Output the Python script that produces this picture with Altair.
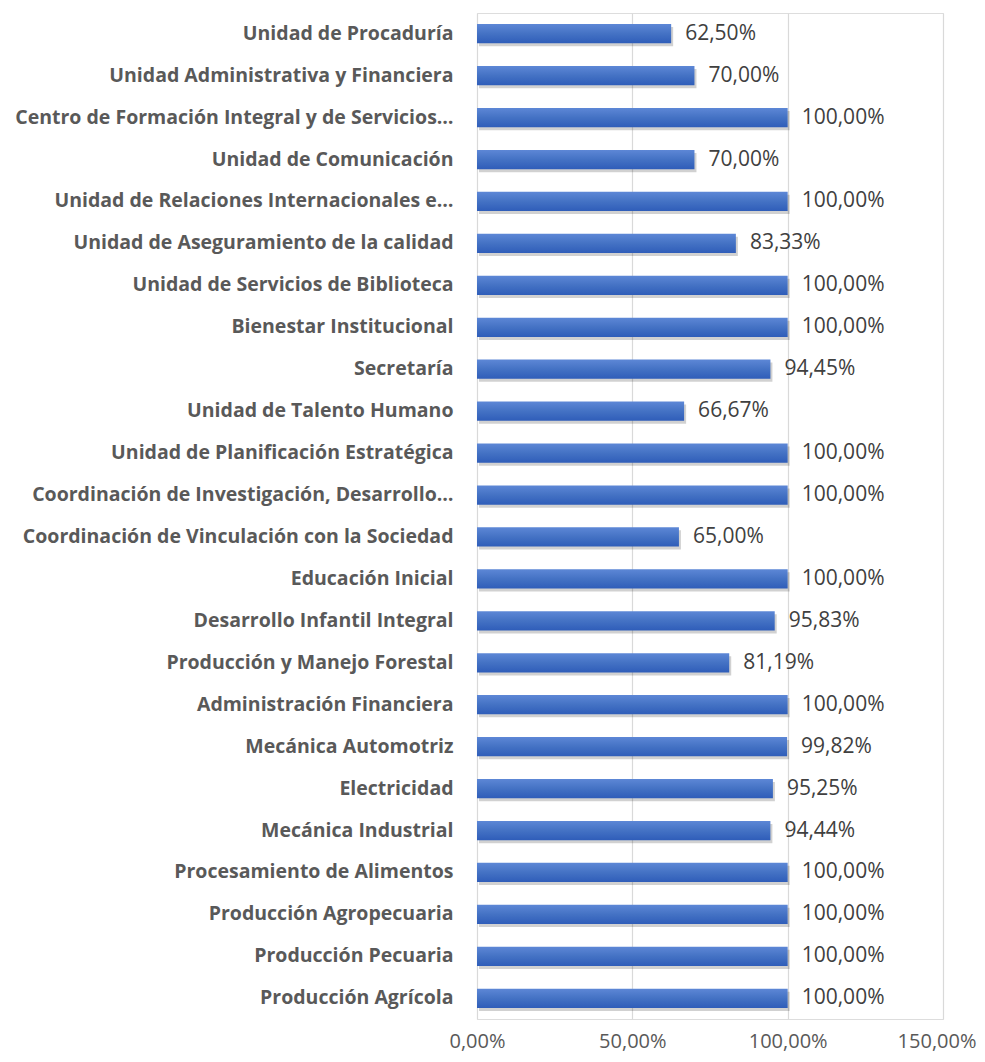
import altair as alt
import pandas as pd

categories = [
    "Unidad de Procaduría\u00a0",
    "Unidad Administrativa y Financiera",
    "Centro de Formación Integral y de Servicios…",
    "Unidad de Comunicación\u00a0",
    "Unidad de Relaciones Internacionales e…",
    "Unidad de Aseguramiento de la calidad\u00a0",
    "Unidad de Servicios de Biblioteca",
    "Bienestar Institucional",
    "Secretaría",
    "Unidad de Talento Humano",
    "Unidad de Planificación  Estratégica",
    "Coordinación de Investigación, Desarrollo…",
    "Coordinación de Vinculación con la Sociedad",
    "Educación Inicial",
    "Desarrollo Infantil Integral",
    "Producción y Manejo Forestal",
    "Administración Financiera",
    "Mecánica Automotriz",
    "Electricidad",
    "Mecánica Industrial",
    "Procesamiento de Alimentos",
    "Producción Agropecuaria",
    "Producción Pecuaria",
    "Producción Agrícola",
]
values = [62.50, 70.00, 100.00, 70.00, 100.00, 83.33, 100.00, 100.00, 94.45, 66.67,
          100.00, 100.00, 65.00, 100.00, 95.83, 81.19, 100.00, 99.82, 95.25, 94.44,
          100.00, 100.00, 100.00, 100.00]
x_ticks = [0, 50, 100, 150]

df = pd.DataFrame({"cat": categories, "val": values})
df["lbl"] = [f"{v:.2f}".replace(".", ",") + "%" for v in values]

FONT = "Open Sans"

y_enc = alt.Y("cat:N", sort=categories,
              scale=alt.Scale(paddingInner=0.54, paddingOuter=0.264),
              axis=alt.Axis(title=None, labelFont=FONT, labelFontSize=19.5, labelFontWeight="bold",
                            labelColor="#595959", labelPadding=24, ticks=False, domain=False,
                            labelLimit=0, grid=False))
x_enc = alt.X("val:Q", scale=alt.Scale(domain=[0, 150], nice=False),
              axis=alt.Axis(title=None, values=x_ticks, labelFont=FONT, labelFontSize=20,
                            labelColor="#595959", grid=True, gridColor="#d9d9d9", gridWidth=1.2,
                            domain=False, ticks=False, labelPadding=12, labelFlush=False,
                            labelAlign={"condition": {"test": "datum.value == 150", "value": "right"},
                                        "value": "center"},
                            labelOffset={"condition": {"test": "datum.value == 150", "value": 33},
                                         "value": 0},
                            labelExpr="replace(format(datum.value, '.2f'), '.', ',') + '%'"))

base = alt.Chart(df)

shadow = base.mark_bar(color="#000000", opacity=0.18, yOffset=3, xOffset=2).encode(
    y=y_enc, x=x_enc)

bars = base.mark_bar(
    color=alt.Gradient(gradient="linear", x1=0, y1=0, x2=0, y2=1,
                       stops=[alt.GradientStop(color="#5d87d6", offset=0),
                              alt.GradientStop(color="#4472c4", offset=0.5),
                              alt.GradientStop(color="#2f5db9", offset=1)])
).encode(y=y_enc, x=x_enc)

text = base.mark_text(align="left", baseline="middle", dx=14, font=FONT, fontSize=21,
                      color="#404040").encode(y=y_enc, x=x_enc, text="lbl:N")

chart = alt.layer(shadow, bars, text).properties(
    width=466, height=1006,
    padding={"left": 469, "top": 5, "right": 34, "bottom": 35},
    autosize=alt.AutoSizeParams(type="none"),
).configure_view(stroke=None).configure(background="white")

chart.save("out.html", embed_options={"renderer": "svg", "actions": False})
